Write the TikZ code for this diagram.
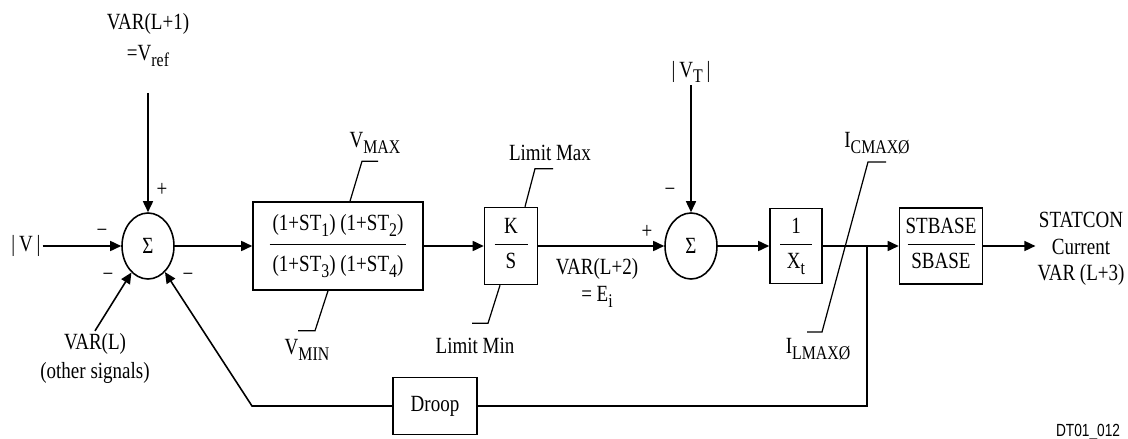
\documentclass[tikz,border=0pt]{standalone}
\usepackage{fontspec}
\setmainfont{Liberation Serif}[FakeStretch=0.82]
\newfontfamily\tagfont{Liberation Sans}[FakeStretch=0.78]
\usetikzlibrary{arrows.meta,shapes.geometric,calc}

% индекс, опущенный ниже строки
\newcommand{\sbx}[1]{\raisebox{-0.55ex}{\fontsize{11}{11}\selectfont #1}}
% дробь внутри блока: [зазор]{числитель}{знаменатель}{длина черты}
\newcommand{\blockfrac}[4][-4.5pt]{\begin{tabular}{@{}c@{}}#2\\[#1]\rule[3.6pt]{#4}{0.6pt}\\[#1]#3\end{tabular}}

\tikzset{
    sig/.style={line width=0.9pt, -{Triangle[length=2.2mm,width=2mm]}},
    wire/.style={line width=0.9pt},
    leader/.style={line width=0.7pt},
    blk/.style={draw, rectangle, line width=0.9pt, inner sep=0pt},
    summer/.style={draw, ellipse, line width=0.9pt, minimum width=1.04cm, minimum height=1.32cm, inner sep=0pt},
    lbl/.style={inner sep=1pt, align=center},
    sgn/.style={inner sep=0pt}
}

\begin{document}
\fontsize{13.2}{14.5}\selectfont
\begin{tikzpicture}[x=0.02cm, y=-0.02cm]
    % рамка картинки
    \useasboundingbox (0,0) rectangle (1128,439);

    % сумматоры
    \node[summer] (sumA) at (148,246) {Σ};
    \node[summer] (sumB) at (691,246) {Σ};

    % блоки
    \node[blk, minimum width=3.4cm, minimum height=1.76cm] (leadlag) at (338,246)
        {\blockfrac[-3pt]{(1+ST\sbx{1}) (1+ST\sbx{2})}{(1+ST\sbx{3}) (1+ST\sbx{4})}{2.74cm}};
    \node[blk, minimum width=1.06cm, minimum height=1.54cm] (ks) at (511,246)
        {\blockfrac{K}{S}{0.66cm}};
    \node[blk, minimum width=1.04cm, minimum height=1.5cm] (gain) at (796,246)
        {\blockfrac{1}{X\sbx{t}}{0.64cm}};
    \node[blk, minimum width=1.66cm, minimum height=1.52cm] (base) at (941,246)
        {\blockfrac{STBASE}{SBASE}{1.34cm}};
    \node[blk, minimum width=1.68cm, minimum height=1.14cm] (droop) at (435,406) {Droop};

    % входы и выходы
    \node[lbl] (vref) at (148,40) {VAR(L+1)\\[3pt]=V\sbx{ref}};
    \coordinate (vrefin) at (148,93);
    \node[lbl] (vmag) at (26,246) {|\,V\,|};
    \node[lbl] (varl) at (95,358) {VAR(L)\\[2pt](other signals)};
    \node[lbl] (vt) at (691,72) {|\,V\sbx{T}\,|};
    \node[lbl] (ei) at (597,283) {VAR(L+2)\\[0.5pt]= E\sbx{i}};
    \node[lbl] (stat) at (1081,249) {STATCON\\[0.5pt]Current\\[0.5pt]VAR (L+3)};

    % знаки
    \node[sgn] (pA) at (162,190) {+};
    \node[sgn] (mA1) at (102,233) {−};
    \node[sgn] (mA2) at (108,277) {−};
    \node[sgn] (mA3) at (188,277) {−};
    \node[sgn] (pB) at (647,232) {+};
    \node[sgn] (mB) at (670,192) {−};

    % пределы
    \node[lbl] (vmax) at (375,143) {V\sbx{MAX}};
    \node[lbl] (vmin) at (307,350) {V\sbx{MIN}};
    \node[lbl] (lmax) at (550,153) {Limit Max};
    \node[lbl] (lmin) at (475,346) {Limit Min};
    \node[lbl] (icmax) at (877,143) {I\sbx{CMAXØ}};
    \node[lbl] (ilmax) at (818,349) {I\sbx{LMAXØ}};

    \node[lbl, font=\tagfont\fontsize{10}{12}\selectfont] (tag) at (1088,432) {DT01\_012};

    % прямой путь
    \draw[sig] (vrefin) -- (sumA);
    \draw[sig] (vmag) -- (sumA);
    \draw[sig] (varl.north) -- (sumA);
    \draw[sig] (sumA) -- (leadlag);
    \draw[sig] (leadlag) -- (ks);
    \draw[sig] (ks) -- (sumB);
    \draw[sig] (vt) -- (sumB);
    \draw[sig] (sumB) -- (gain);
    \draw[sig] (gain) -- (base);
    \draw[sig] (base) -- (base.east -| stat.west);

    % обратная связь
    \coordinate (tap) at (867,246);
    \coordinate (fbturn) at (252,406);
    \draw[wire] (tap) |- (droop);
    \draw[sig] (droop) -- (fbturn) -- (sumA);

    % выноски пределов
    \draw[leader] ($(leadlag.north)+(12,0)$) -- ++(12,-40) -- ++(16,0);
    \draw[leader] ($(leadlag.south)+(-10,0)$) -- ++(-13,40) -- ++(-17,0);
    \draw[leader] ($(ks.north)+(14,0)$) -- ++(10,-38) -- ++(18,0);
    \draw[leader] ($(ks.south)+(-11,0)$) -- ++(-12,38) -- ++(-16,0);
    \coordinate (satlo) at (822,332);
    \coordinate (sathi) at (868,162);
    \draw[leader] (satlo) ++(-15,0) -- (satlo) -- (sathi) -- ++(18,0);
\end{tikzpicture}
\end{document}
